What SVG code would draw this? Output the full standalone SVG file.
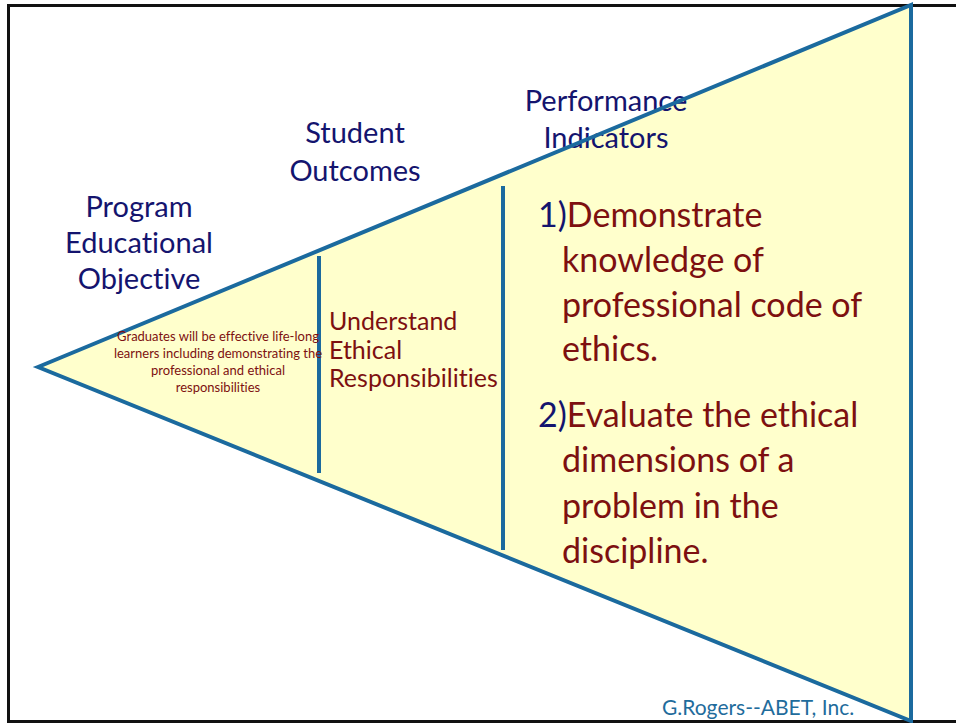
<svg xmlns="http://www.w3.org/2000/svg" width="956" height="723" viewBox="0 0 956 723">
<style>
text{font-family:"Lato","Open Sans","Liberation Sans",sans-serif;font-variant-ligatures:none;font-feature-settings:"liga" 0,"dlig" 0}
.hd{fill:#14146e;font-size:29px;text-anchor:middle}
.rd{fill:#7d1010}
.nv{fill:#14146e}
.blue{stroke:#1b6a9e;stroke-width:4;fill:none}
.pi{font-size:34px}
</style>
<rect width="956" height="723" fill="#ffffff"/>
<path d="M956 5.5H8.5V721.5H956" fill="none" stroke="#111111" stroke-width="3"/>
<g id="triangle">
<polygon points="38,367 911,5 911,721" fill="#ffffcc"/>
</g>
<g id="peo-heading"><text class="hd" x="139" y="217">Program</text><text class="hd" x="139" y="253">Educational</text><text class="hd" x="139" y="289">Objective</text></g>
<g id="so-heading"><text class="hd" x="355" y="143">Student</text><text class="hd" x="355" y="181">Outcomes</text></g>
<g id="pi-heading"><text class="hd" x="606" y="111">Performance</text><text class="hd" x="606" y="148">Indicators</text></g>
<polygon points="38,367 911,5 911,721" class="blue"/>
<g id="connectors">
<line x1="319" y1="256" x2="319" y2="473" class="blue"/>
<line x1="503" y1="186" x2="503" y2="550" class="blue"/>
</g>
<g id="peo-text" class="rd" style="font-size:13px;text-anchor:middle">
<text x="218" y="341">Graduates will be effective life-long</text>
<text x="218" y="358">learners including demonstrating the</text>
<text x="218" y="375">professional and ethical</text>
<text x="218" y="392">responsibilities</text>
</g>
<g id="so-text" class="rd" style="font-size:25px">
<text x="329" y="330">Understand</text>
<text x="329" y="358.5">Ethical</text>
<text x="329" y="387">Responsibilities</text>
</g>
<g id="pi-text" class="pi">
<text x="538" y="227"><tspan class="nv">1)</tspan><tspan class="rd">Demonstrate</tspan></text>
<text x="562" y="272" class="rd">knowledge of</text>
<text x="562" y="317" class="rd">professional code of</text>
<text x="562" y="361" class="rd">ethics.</text>
<text x="538" y="427"><tspan class="nv">2)</tspan><tspan class="rd">Evaluate the ethical</tspan></text>
<text x="562" y="472" class="rd">dimensions of a</text>
<text x="562" y="518" class="rd">problem in the</text>
<text x="562" y="563" class="rd">discipline.</text>
</g>
<g id="credit"><text x="662" y="715" style="font-size:21px;fill:#1f6c9c">G.Rogers--ABET, Inc.</text></g>
</svg>
